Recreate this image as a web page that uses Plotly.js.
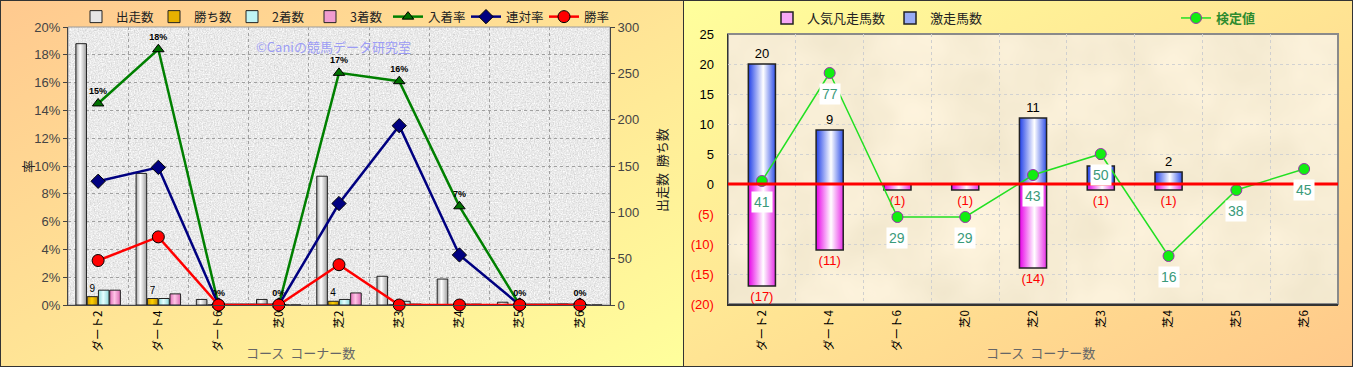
<!DOCTYPE html>
<html><head><meta charset="utf-8">
<script src="https://cdn.plot.ly/plotly-3.0.1.min.js"></script>
<style>
html,body{margin:0;padding:0;width:1353px;height:367px;overflow:hidden;background:#fff;}
#left{position:absolute;left:0;top:0;width:682px;height:365px;border:1px solid #333;background:linear-gradient(to bottom right,#FFC98F,#FFFF9C);}
#right{position:absolute;left:683px;top:0;width:668px;height:365px;border:1px solid #333;background:linear-gradient(to bottom right,#FFFF9C,#FFC98A);}
</style></head>
<body>
<div id="left"></div>
<div id="right"></div>
<script>
// ---------- data ----------
const categories = ['ダート2','ダート4','ダート6','芝0','芝2','芝3','芝4','芝5','芝6'];
// left chart (counts on right axis, rates in % on left axis)
const runs    = [282, 142, 6, 6, 139, 31, 28, 3, 1];
const wins    = [9, 7, 0, 0, 4, 0, 0, 0, 0];
const seconds = [16, 7, 0, 0, 6, 4, 1, 0, 0];
const thirds  = [16, 12, 0, 0, 13, 1, 1, 0, 0];
const placeRate    = [14.5, 18.4, 0, 0, 16.7, 16.1, 7.1, 0, 0];
const quinellaRate = [8.9, 9.9, 0, 0, 7.3, 12.9, 3.6, 0, 0];
const winRate      = [3.2, 4.9, 0, 0, 2.9, 0, 0, 0, 0];
const placeRateLabels = ['15%','18%','0%','0%','17%','16%','7%','0%','0%'];
const winLabels = ['9','7','','','4','','','',''];
// right chart
const gekisou = [20, 9, 0, 0, 11, 3, 2, 0, 0];          // 激走馬数
const bonsou  = [-17, -11, -1, -1, -14, -1, -1, 0, 0];  // 人気凡走馬数
const kentei  = [41, 77, 29, 29, 43, 50, 16, 38, 45];   // 検定値
const rightTickVals = [-20, -15, -10, -5, 0, 5, 10, 15, 20, 25];

const FONT = '"Liberation Sans","Noto Sans CJK JP",sans-serif';
const JP = '"Noto Sans CJK JP","Liberation Sans",sans-serif';

function px2x(px, m, W){ return (px - m.l) / (W - m.l - m.r); }
function px2y(py, m, H){ return 1 - (py - m.t) / (H - m.t - m.b); }

// ---------- left chart ----------
const LW = 682, LH = 365, Lm = {l:67, r:73, t:26, b:61, autoexpand:false};
const barLine = {color:'#222', width:1};
const leftTraces = [
  {type:'bar', name:'出走数', x:categories, y:runs, marker:{color:'#E6E6E6', line:barLine}},
  {type:'bar', name:'勝ち数', x:categories, y:wins, marker:{color:'#E6B000', line:barLine},
   text:winLabels, textposition:'outside', cliponaxis:false, constraintext:'none',
   textfont:{size:10, color:'#000', family:FONT}},
  {type:'bar', name:'2着数', x:categories, y:seconds, marker:{color:'#BFF4F4', line:barLine}},
  {type:'bar', name:'3着数', x:categories, y:thirds, marker:{color:'#F09CCF', line:barLine}},
  {type:'scatter', name:'入着率', x:categories, y:placeRate, yaxis:'y2', mode:'lines+markers+text',
   line:{color:'#008000', width:2.5}, cliponaxis:false,
   marker:{symbol:'triangle-up', size:10, color:'#007000', line:{color:'#000', width:1}},
   text:placeRateLabels, textposition:'top center',
   textfont:{size:9, color:'#000', family:FONT, weight:'bold'}},
  {type:'scatter', name:'連対率', x:categories, y:quinellaRate, yaxis:'y2', mode:'lines+markers',
   line:{color:'#000080', width:2.5}, cliponaxis:false,
   marker:{symbol:'diamond', size:11, color:'#000080', line:{color:'#000', width:1}}},
  {type:'scatter', name:'勝率', x:categories, y:winRate, yaxis:'y2', mode:'lines+markers',
   line:{color:'#FF0000', width:2.5}, cliponaxis:false,
   marker:{symbol:'circle', size:12, color:'#FF0000', line:{color:'#000', width:1}}}
];

const leftLayout = {
  width:LW, height:LH, margin:Lm,
  paper_bgcolor:'rgba(0,0,0,0)', plot_bgcolor:'#E9E9E9',
  barmode:'group', bargap:0.25, bargroupgap:0.06,
  font:{family:FONT, size:12, color:'#333'},
  showlegend:true,
  legend:{orientation:'h', x:px2x(75,Lm,LW), y:px2y(16,Lm,LH), xanchor:'left', yanchor:'middle',
          font:{size:12.5, color:'#222', family:JP}, bgcolor:'rgba(0,0,0,0)', itemwidth:30,
          entrywidth:33, entrywidthmode:'pixels', tracegroupgap:0},
  xaxis:{type:'category', tickangle:-90, tickson:'boundaries', showgrid:true, gridcolor:'#A0A0A0',
         griddash:'dot', gridwidth:1, showline:true, linecolor:'#444', linewidth:1, ticks:'',
         tickfont:{size:11.5, color:'#000', family:JP}, range:[-0.5, 8.5]},
  yaxis:{side:'right', range:[0, 300], dtick:50, showgrid:false, showline:true, linecolor:'#444',
         ticks:'outside', ticklen:4, tickcolor:'#444', tickfont:{size:13, color:'#444'}, zeroline:false},
  yaxis2:{overlaying:'y', side:'left', range:[0, 20], dtick:2, ticksuffix:'%', showgrid:true,
          gridcolor:'#A0A0A0', griddash:'dot', showline:true, linecolor:'#444', ticks:'outside',
          ticklen:4, tickcolor:'#444', tickfont:{size:13, color:'#444'}, zeroline:false},
  shapes:[{type:'rect', xref:'x domain', yref:'y domain', x0:0, x1:1, y0:0, y1:1,
           line:{color:'#9A9A9A', width:1}, layer:'below'}],
  annotations:[
    {text:'率', textangle:-90, xref:'paper', yref:'paper', x:px2x(26,Lm,LW), y:px2y(166,Lm,LH),
     xanchor:'center', yanchor:'middle', showarrow:false, font:{size:13, color:'#222', family:JP}},
    {text:'出走数  勝ち数', textangle:-90, xref:'paper', yref:'paper', x:px2x(660,Lm,LW), y:px2y(169,Lm,LH),
     xanchor:'center', yanchor:'middle', showarrow:false, font:{size:13, color:'#222', family:JP}},
    {text:'コース  コーナー数', xref:'paper', yref:'paper', x:px2x(299,Lm,LW), y:px2y(351,Lm,LH),
     xanchor:'center', yanchor:'middle', showarrow:false, font:{size:13, color:'#666', family:JP}},
    {text:'©Caniの競馬データ研究室', xref:'paper', yref:'paper', x:px2x(332,Lm,LW), y:px2y(45,Lm,LH),
     xanchor:'center', yanchor:'middle', showarrow:false, font:{size:13, color:'#9C9CF5', family:JP}}
  ]
};

// ---------- right chart ----------
const RW = 668, RH = 365, Rm = {l:44, r:14, t:33, b:62, autoexpand:false};
const rbLine = {color:'#222', width:1.5};
const rightTraces = [
  {type:'bar', name:'人気凡走馬数', x:categories, y:bonsou, legend:'legend',
   marker:{color:'#F7A8F7', line:rbLine},
   text:bonsou.map(v => v < 0 ? '(' + (-v) + ')' : ''), textposition:'outside', cliponaxis:false,
   constraintext:'none', textfont:{size:13, color:'#FF0000', family:FONT}},
  {type:'bar', name:'激走馬数', x:categories, y:gekisou, legend:'legend',
   marker:{color:'#98ABF5', line:rbLine},
   text:gekisou.map(v => v > 0 ? String(v) : ''), textposition:'outside', cliponaxis:false,
   constraintext:'none', textfont:{size:13, color:'#000', family:FONT}},
  {type:'scatter', name:'検定値', x:categories, y:kentei, yaxis:'y2', legend:'legend2',
   mode:'lines+markers', cliponaxis:false,
   line:{color:'#22E022', width:1.5},
   marker:{symbol:'circle', size:11, color:'#11EE11', line:{color:'#9933AA', width:1}}}
];
const rightAnn = kentei.map((v, i) => ({
  text:String(v), x:categories[i], y:v, xref:'x', yref:'y2', yshift:-21, showarrow:false,
  xanchor:'center', yanchor:'middle',
  bgcolor:'#FFFFFF', borderpad:2, font:{size:14, color:'#3A9A7A', family:FONT}
}));
rightAnn.push({text:'コース  コーナー数', xref:'paper', yref:'paper', x:px2x(356,Rm,RW), y:px2y(351,Rm,RH),
  xanchor:'center', yanchor:'middle', showarrow:false, font:{size:13, color:'#666', family:JP}});

const rightLayout = {
  width:RW, height:RH, margin:Rm,
  paper_bgcolor:'rgba(0,0,0,0)', plot_bgcolor:'#F8ECD2',
  barmode:'relative', bargap:0.6,
  font:{family:FONT, size:13, color:'#000'},
  showlegend:true,
  legend:{orientation:'h', x:px2x(83,Rm,RW), y:px2y(17,Rm,RH), xanchor:'left', yanchor:'middle',
          font:{size:13, color:'#222', family:JP}, bgcolor:'rgba(0,0,0,0)', itemwidth:30},
  legend2:{orientation:'h', x:px2x(492,Rm,RW), y:px2y(17,Rm,RH), xanchor:'left', yanchor:'middle',
          font:{size:13, color:'#2E8B2E', family:JP, weight:'bold'}, bgcolor:'rgba(0,0,0,0)', itemwidth:30},
  xaxis:{type:'category', tickangle:-90, tickson:'boundaries', showgrid:true, gridcolor:'#CFCFCF',
         griddash:'dot', showline:true, linecolor:'#333', linewidth:1.5, ticks:'',
         tickfont:{size:11.5, color:'#000', family:JP}, range:[-0.5, 8.5]},
  yaxis:{range:[-20, 25], tickvals:rightTickVals,
         ticktext:rightTickVals.map(v => v < 0 ? '<span style="color:#FF0000">(' + (-v) + ')</span>' : String(v)),
         showgrid:true, gridcolor:'#D2D2D2', griddash:'dot', zeroline:false, showline:true,
         linecolor:'#333', linewidth:1.5, ticks:'', ticklabelstandoff:10, tickfont:{size:13, color:'#000'}},
  yaxis2:{overlaying:'y', range:[0, 90], visible:false},
  shapes:[
    {type:'rect', xref:'x domain', yref:'y domain', x0:0, x1:1, y0:0, y1:1,
     line:{color:'#8A8A8A', width:2}, layer:'below'},
    {type:'line', xref:'x domain', x0:0, x1:1, yref:'y', y0:0, y1:0,
     line:{color:'#FF0000', width:3}, layer:'above'}
  ],
  annotations:rightAnn
};

// ---------- gradient / texture styling ----------
const NS = 'http://www.w3.org/2000/svg';
function el(tag, attrs){ const e = document.createElementNS(NS, tag); for (const k in attrs) e.setAttribute(k, attrs[k]); return e; }
function addStyling(gd, specs, tex){
  const svg = gd.querySelector('svg.main-svg');
  const defs = el('defs', {});
  specs.forEach(s => {
    const g = el('linearGradient', {id:s.id, x1:0, x2:1, y1:0, y2:0});
    s.stops.forEach(st => g.appendChild(el('stop', {offset:st[0], 'stop-color':st[1]})));
    defs.appendChild(g);
  });
  if (tex){
    const f = el('filter', {id:tex.id, x:0, y:0, width:1, height:1, 'color-interpolation-filters':'sRGB'});
    f.appendChild(el('feTurbulence', {type:'fractalNoise', baseFrequency:tex.freq, numOctaves:tex.oct, seed:4}));
    f.appendChild(el('feColorMatrix', {type:'matrix', values:tex.matrix}));
    defs.appendChild(f);
  }
  svg.insertBefore(defs, svg.firstChild);
  gd.querySelectorAll('.barlayer .trace').forEach((t, i) => {
    if (!specs[i]) return;
    t.querySelectorAll('.point path').forEach(p => { p.style.fill = 'url(#' + specs[i].id + ')'; });
  });
  gd.querySelectorAll('.legend .traces').forEach((t, i) => {
    if (!specs[i]) return;
    t.querySelectorAll('path.legendbar').forEach(p => { p.style.fill = 'url(#' + specs[i].id + ')'; });
  });
  if (tex){
    const bg = gd.querySelector('.bglayer rect.bg');
    if (bg) bg.setAttribute('filter', 'url(#' + tex.id + ')');
  }
}

const cfg = {displayModeBar:false, staticPlot:true};
Plotly.newPlot('left', leftTraces, leftLayout, cfg).then(gd => {
  addStyling(gd, [
    {id:'gRun', stops:[[0,'#A8A8A8'],[0.4,'#FFFFFF'],[1,'#9C9C9C']]},
    {id:'gWin', stops:[[0,'#C89400'],[0.45,'#FFD200'],[1,'#C08C00']]},
    {id:'g2nd', stops:[[0,'#8FDADA'],[0.45,'#E6FFFF'],[1,'#8CD6D6']]},
    {id:'g3rd', stops:[[0,'#E070B8'],[0.45,'#FFC4E6'],[1,'#DC6CB4']]}
  ], {id:'granite', freq:'0.75', oct:3,
      matrix:'0.26 0 0 0 0.785  0.26 0 0 0 0.785  0.26 0 0 0 0.785  0 0 0 0 1'});
});
Plotly.newPlot('right', rightTraces, rightLayout, cfg).then(gd => {
  addStyling(gd, [
    {id:'gPink', stops:[[0,'#E800E8'],[0.55,'#FFFFFF'],[1,'#E830E8']]},
    {id:'gBlue', stops:[[0,'#2040E8'],[0.55,'#FFFFFF'],[1,'#3050E8']]}
  ], {id:'parch', freq:'0.015', oct:3,
      matrix:'0.07 0 0 0 0.935  0.07 0 0 0 0.895  0.09 0 0 0 0.79  0 0 0 0 1'});
});
</script>
</body></html>
